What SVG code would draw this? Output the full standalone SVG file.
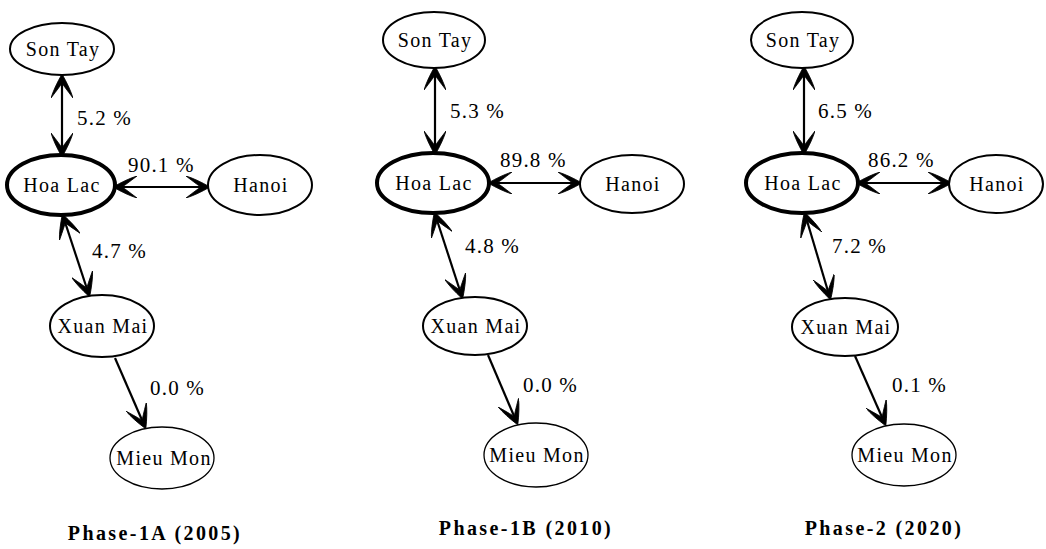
<svg xmlns="http://www.w3.org/2000/svg" width="1046" height="549" viewBox="0 0 1046 549">
<defs>
<marker id="ah" viewBox="0 0 24 22" refX="22" refY="11" markerWidth="24" markerHeight="22" markerUnits="userSpaceOnUse" orient="auto-start-reverse">
<path d="M24,11 Q10,3 0,0 Q13,10 15,11 Q13,12 0,22 Q10,19 24,11 Z" fill="#000" stroke="#000" stroke-width="0.8" stroke-linejoin="round"/>
</marker>
</defs>
<style>
.n{fill:#fff;stroke:#000;stroke-width:2}
.hl{fill:#fff;stroke:#000;stroke-width:4}
.mm{fill:#fff;stroke:#000;stroke-width:1.3}
.t{font-family:"Liberation Serif",serif;font-size:20px;letter-spacing:1.3px;text-anchor:middle;fill:#000}
.l{font-family:"Liberation Serif",serif;font-size:21px;letter-spacing:1.2px;fill:#000}
.ti{font-family:"Liberation Serif",serif;font-size:20px;font-weight:bold;letter-spacing:2.4px;text-anchor:middle;fill:#000}
.c{stroke:#000;stroke-width:2.2;fill:none}
.d{marker-start:url(#ah);marker-end:url(#ah)}
.s{marker-end:url(#ah)}
</style>
<rect width="1046" height="549" fill="#fff"/>
<g id="connectors">
<line class="c d" x1="62" y1="76" x2="62" y2="155"/>
<line class="c d" x1="115" y1="187" x2="208" y2="187"/>
<line class="c d" x1="63" y1="216" x2="89" y2="295"/>
<line class="c s" x1="115" y1="358" x2="145" y2="427"/>
<line class="c d" x1="435" y1="68" x2="435" y2="153"/>
<line class="c d" x1="490" y1="183" x2="580" y2="183"/>
<line class="c d" x1="435" y1="214" x2="462" y2="297"/>
<line class="c s" x1="488" y1="355" x2="517" y2="423"/>
<line class="c d" x1="804" y1="68" x2="804" y2="153"/>
<line class="c d" x1="858" y1="183" x2="950" y2="183"/>
<line class="c d" x1="805" y1="214" x2="830" y2="298"/>
<line class="c s" x1="855" y1="356" x2="885" y2="424"/>
</g>
<g id="labels">
<text class="l" x="77" y="125">5.2 %</text>
<text class="l" x="128" y="172">90.1 %</text>
<text class="l" x="92" y="258">4.7 %</text>
<text class="l" x="150" y="395">0.0 %</text>
<text class="l" x="450" y="118">5.3 %</text>
<text class="l" x="500" y="167">89.8 %</text>
<text class="l" x="465" y="253">4.8 %</text>
<text class="l" x="523" y="392">0.0 %</text>
<text class="l" x="818" y="118">6.5 %</text>
<text class="l" x="868" y="167">86.2 %</text>
<text class="l" x="832" y="253">7.2 %</text>
<text class="l" x="892" y="392">0.1 %</text>
</g>
<g id="p1-sontay"><ellipse class="n" cx="62" cy="49" rx="52" ry="26"/><text class="t" x="63" y="56">Son Tay</text></g>
<g id="p1-hoalac"><ellipse class="hl" cx="61" cy="185" rx="54" ry="30"/><text class="t" x="62" y="192">Hoa Lac</text></g>
<g id="p1-hanoi"><ellipse class="n" cx="260" cy="185" rx="52" ry="30"/><text class="t" x="261" y="192">Hanoi</text></g>
<g id="p1-xuanmai"><ellipse class="n" cx="102" cy="326" rx="52" ry="31"/><text class="t" x="103" y="333">Xuan Mai</text></g>
<g id="p1-mieumon"><ellipse class="mm" cx="162" cy="458" rx="52" ry="31"/><text class="t" x="164" y="465">Mieu Mon</text></g>
<g id="p2-sontay"><ellipse class="n" cx="434" cy="40" rx="51" ry="28"/><text class="t" x="435" y="47">Son Tay</text></g>
<g id="p2-hoalac"><ellipse class="hl" cx="433" cy="183" rx="56" ry="30"/><text class="t" x="434" y="190">Hoa Lac</text></g>
<g id="p2-hanoi"><ellipse class="n" cx="632" cy="184" rx="52" ry="29"/><text class="t" x="633" y="191">Hanoi</text></g>
<g id="p2-xuanmai"><ellipse class="n" cx="475" cy="326" rx="52" ry="29"/><text class="t" x="476" y="333">Xuan Mai</text></g>
<g id="p2-mieumon"><ellipse class="mm" cx="536" cy="455" rx="52" ry="32"/><text class="t" x="537" y="462">Mieu Mon</text></g>
<g id="p3-sontay"><ellipse class="n" cx="802" cy="40" rx="51" ry="28"/><text class="t" x="803" y="47">Son Tay</text></g>
<g id="p3-hoalac"><ellipse class="hl" cx="802" cy="183" rx="56" ry="30"/><text class="t" x="803" y="190">Hoa Lac</text></g>
<g id="p3-hanoi"><ellipse class="n" cx="996" cy="184" rx="47" ry="29"/><text class="t" x="997" y="191">Hanoi</text></g>
<g id="p3-xuanmai"><ellipse class="n" cx="845" cy="327" rx="53" ry="29"/><text class="t" x="846" y="334">Xuan Mai</text></g>
<g id="p3-mieumon"><ellipse class="mm" cx="904" cy="455" rx="52" ry="31"/><text class="t" x="905" y="462">Mieu Mon</text></g>
<g id="titles">
<text class="ti" x="155" y="540">Phase-1A (2005)</text>
<text class="ti" x="526" y="535">Phase-1B (2010)</text>
<text class="ti" x="884" y="535">Phase-2 (2020)</text>
</g>
</svg>
